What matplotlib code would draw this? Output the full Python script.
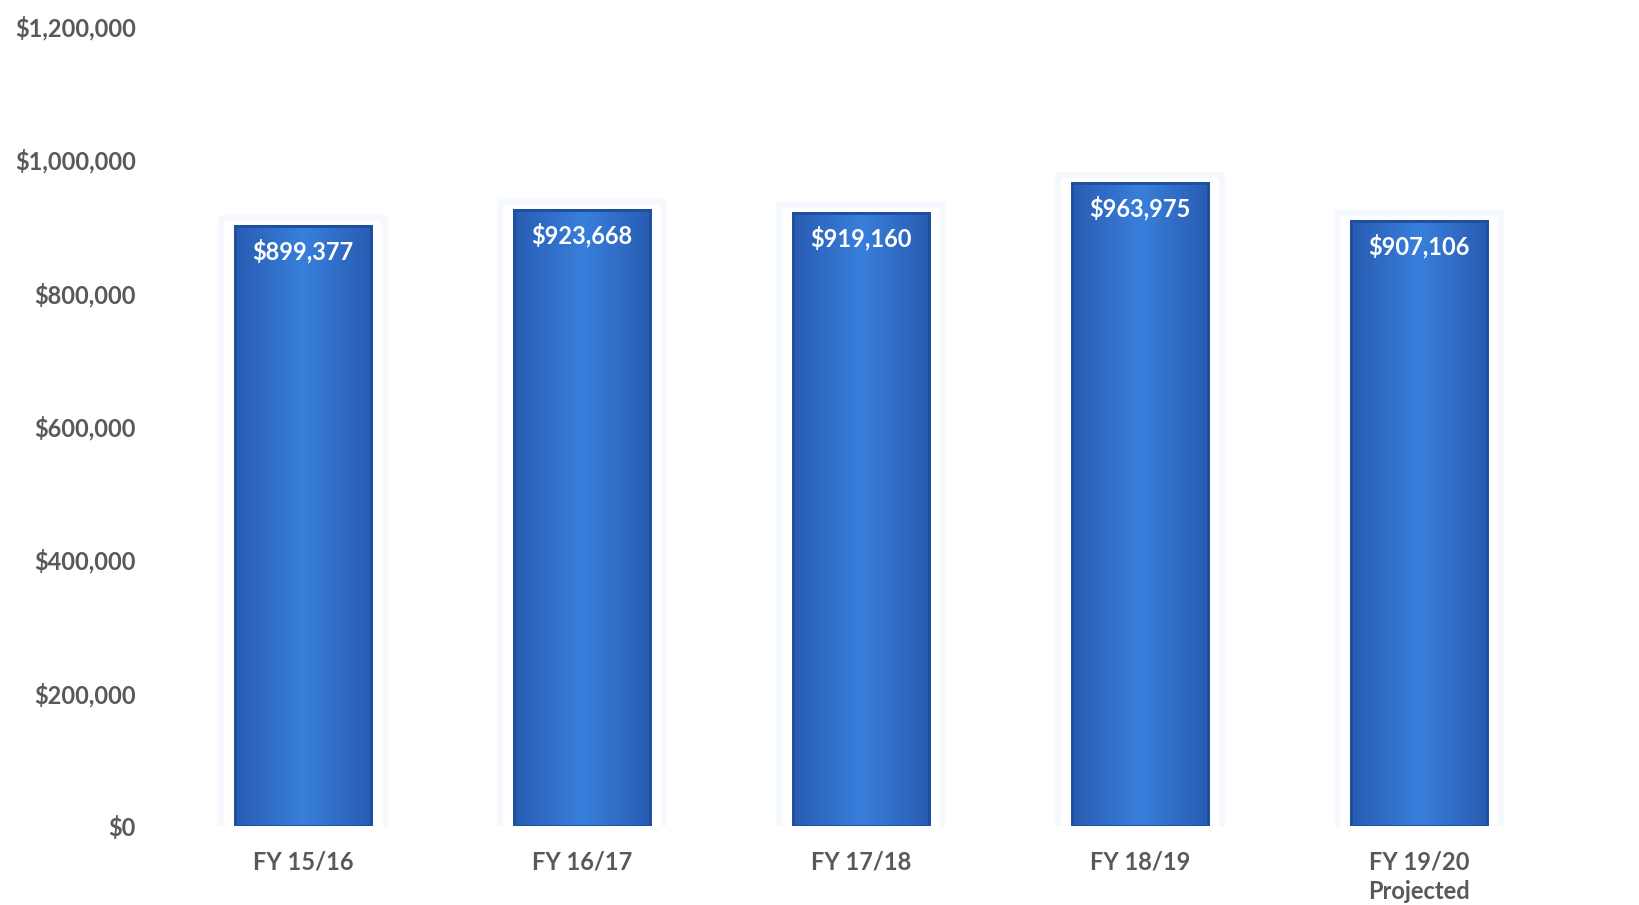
import numpy as np
import matplotlib.pyplot as plt
from matplotlib.ticker import FuncFormatter

# datos
years = ["FY 15/16", "FY 16/17", "FY 17/18", "FY 18/19", "FY 19/20\nProjected"]
values = [899377, 923668, 919160, 963975, 907106]

plt.rcParams['font.family'] = ['Lato', 'DejaVu Sans']
plt.rcParams['font.weight'] = 'bold'

fig = plt.figure(figsize=(16.39, 9.05), dpi=100)
ax = fig.add_axes([0.0998, 0.0873, 0.851, 0.884])

x = np.arange(len(years))
bars = ax.bar(x, values, width=0.49, color="#2e6cc4", edgecolor="#1d4f9e",
              linewidth=2, zorder=3)

# degradado horizontal: bordes oscuros, centro claro
t = np.linspace(0, 1, 64)
shade = 1 - 0.35 * np.abs(t - 0.5) * 2
grad = np.zeros((2, 64, 4))
base = np.array([0.22, 0.50, 0.86])
dark = np.array([0.16, 0.36, 0.70])
for i, s in enumerate(shade):
    c = dark + (base - dark) * (s - 0.65) / 0.35
    grad[:, i, :3] = c
    grad[:, i, 3] = 1.0

for b in bars:
    x0, y0 = b.get_x(), b.get_y()
    w, h = b.get_width(), b.get_height()
    # halo blanco suave
    ax.bar(x0 + w / 2, h + 25000, width=w + 0.1, bottom=-12000,
           color="white", edgecolor="#f4f9fe", linewidth=4, zorder=2)
    im = ax.imshow(grad, extent=[x0, x0 + w, y0, y0 + h], aspect='auto',
                   zorder=4, interpolation='bilinear')
    im.set_clip_path(b)
    ax.add_patch(plt.Rectangle((x0, y0), w, h, fill=False,
                               edgecolor="#1d4f9e", linewidth=2, zorder=5))
    ax.annotate(f"${h:,.0f}", (x0 + w / 2, h), xytext=(0, -9),
                textcoords='offset points', ha='center', va='top',
                color='white', fontsize=17, fontweight='bold', zorder=6)

ax.set_xlim(-0.5, len(years) - 0.5)
ax.set_ylim(0, 1200000)
ax.set_yticks(np.arange(0, 1200001, 200000))
ax.yaxis.set_major_formatter(FuncFormatter(lambda v, p: f"${v:,.0f}"))
ax.set_xticks(x)
ax.set_xticklabels(years, linespacing=1.3)

ax.tick_params(axis='both', length=0, labelsize=17, labelcolor="#595959")
ax.tick_params(axis='y', pad=20)
ax.tick_params(axis='x', pad=18)
for s in ax.spines.values():
    s.set_visible(False)

fig.savefig("out.png", dpi=100, facecolor="white")
